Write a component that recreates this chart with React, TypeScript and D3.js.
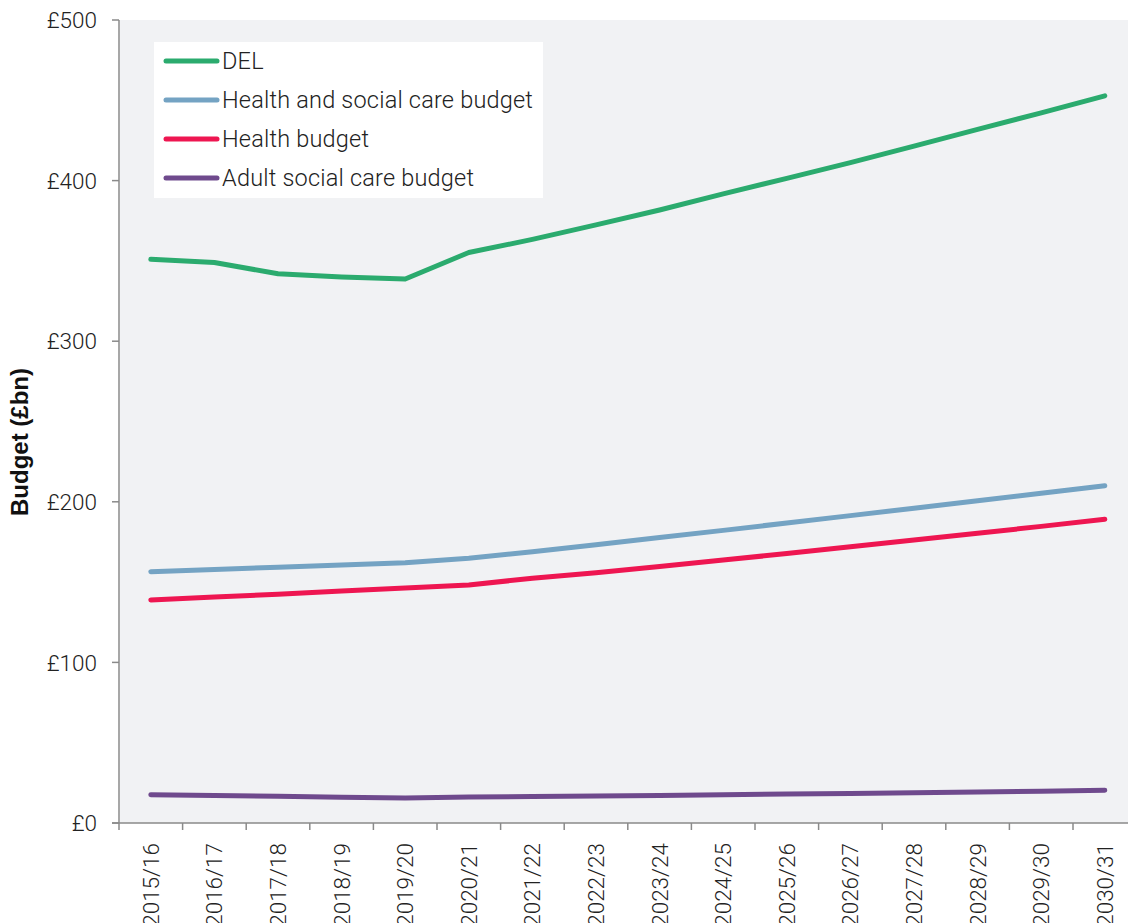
import React from "react";
import * as d3 from "d3";

const years = [
  "2015/16", "2016/17", "2017/18", "2018/19", "2019/20", "2020/21", "2021/22", "2022/23",
  "2023/24", "2024/25", "2025/26", "2026/27", "2027/28", "2028/29", "2029/30", "2030/31",
];
const del = [351, 349, 342, 340, 338.7, 355.2, 363.4, 372.4, 381.7, 391.7, 401.4, 411.2, 421.5, 431.9, 442.2, 452.8];
const healthSocial = [156.5, 157.9, 159.2, 160.6, 162.1, 164.8, 168.9, 173.3, 177.8, 182.2, 186.8, 191.4, 196.0, 200.6, 205.3, 210.0];
const health = [138.9, 140.7, 142.5, 144.4, 146.3, 148.2, 152.4, 155.8, 159.7, 163.7, 167.8, 172.0, 176.2, 180.4, 184.7, 189.1];
const adultSocial = [17.6, 17.2, 16.6, 16.1, 15.6, 16.2, 16.5, 16.8, 17.2, 17.6, 18.0, 18.4, 18.8, 19.3, 19.8, 20.4];
const yTicks = [0, 100, 200, 300, 400, 500];

const seriesList = [
  { name: "DEL", values: del, color: "#2bab6e" },
  { name: "Health and social care budget", values: healthSocial, color: "#74a3c3" },
  { name: "Health budget", values: health, color: "#ee1651" },
  { name: "Adult social care budget", values: adultSocial, color: "#6f4a8d" },
];

export default function App() {
  const W = 1128, H = 923;
  const left = 119, top = 20, bottom = 823;
  const step = 63.6;
  const x = d3.scaleBand().domain(years).range([left, left + step * years.length]).padding(0);
  const y = d3.scaleLinear().domain([0, 500]).range([bottom, top]);
  const line = d3.line<number>()
    .x((_, i) => (x(years[i]) as number) + x.bandwidth() / 2)
    .y((d) => y(d));
  const font = "Roboto, 'Liberation Sans', Arial, sans-serif";
  const textColor = "#222";
  const axisColor = "#8a8a8a";

  return (
    <svg width={W} height={H} style={{ position: "absolute", left: 0, top: 0, background: "#fff" }} fontFamily={font}>
      <rect x={left + 1} y={top} width={W - left - 1} height={bottom - top} fill="#f1f2f4" />
      {/* y axis */}
      <line x1={left} x2={left} y1={top} y2={bottom} stroke={axisColor} strokeWidth={1.5} />
      {yTicks.map((t) => (
        <g key={t}>
          <line x1={left - 7} x2={left} y1={y(t)} y2={y(t)} stroke={axisColor} strokeWidth={1.5} />
          <text x={97} y={y(t)} dy="0.36em" textAnchor="end" fontSize={22.5} fontWeight={300} fill={textColor}>
            £{t}
          </text>
        </g>
      ))}
      {/* x axis */}
      <line x1={left - 7} x2={W} y1={bottom} y2={bottom} stroke={axisColor} strokeWidth={1.5} />
      {years.map((yr) => (
        <line key={"t" + yr} x1={(x(yr) as number)} x2={(x(yr) as number)} y1={bottom} y2={bottom + 7} stroke={axisColor} strokeWidth={1.5} />
      ))}
      {years.map((yr) => {
        const cx = (x(yr) as number) + x.bandwidth() / 2;
        return (
          <text key={yr} transform={`translate(${cx + 8},${843}) rotate(-90)`} textAnchor="end" fontSize={22.5} fontWeight={300} fill={textColor}>
            {yr}
          </text>
        );
      })}
      {/* y title */}
      <text transform={`translate(28,442) rotate(-90)`} textAnchor="middle" fontSize={24} fontWeight={700} fill="#111" fontFamily="'Liberation Sans', Arial, sans-serif">
        Budget (£bn)
      </text>
      {/* lines */}
      {seriesList.map((s) => (
        <path key={s.name} d={line(s.values) as string} fill="none" stroke={s.color} strokeWidth={5} strokeLinecap="round" strokeLinejoin="round" />
      ))}
      {/* legend */}
      <rect x={154} y={42} width={389} height={156} fill="#fff" />
      {seriesList.map((s, i) => {
        const ly = 61 + i * 39;
        return (
          <g key={"lg" + s.name}>
            <line x1={166} x2={217} y1={ly} y2={ly} stroke={s.color} strokeWidth={5} strokeLinecap="round" />
            <text x={222} y={ly} dy="0.36em" fontSize={23.5} fontWeight={300} fill={textColor} letterSpacing={0.2}>
              {s.name}
            </text>
          </g>
        );
      })}
    </svg>
  );
}
